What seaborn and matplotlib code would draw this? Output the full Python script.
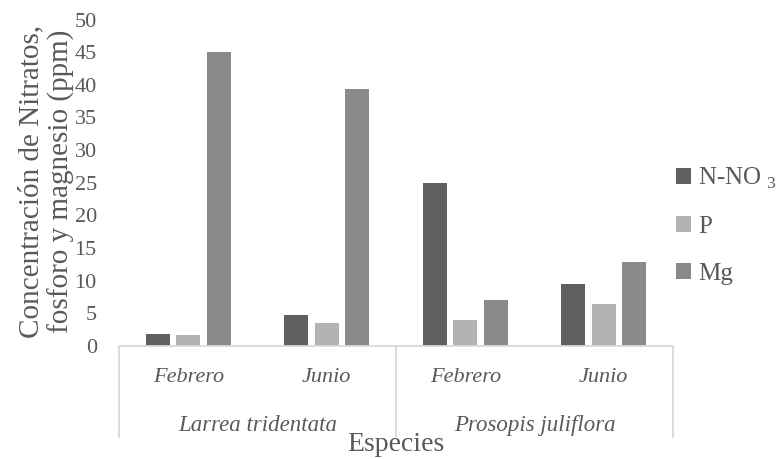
import numpy as np
import pandas as pd
import matplotlib
matplotlib.use("Agg")
import matplotlib.pyplot as plt
import matplotlib.transforms as mtransforms
import seaborn as sns

# Species, sampling months and nutrient concentrations (ppm)
especies = ["Larrea tridentata", "Prosopis juliflora"]
meses = ["Febrero", "Junio"]
nutrientes = ["N-NO3", "P", "Mg"]
etiquetas_leyenda = ["N-NO $_3$", "P", "Mg"]
n_no3 = [1.8, 4.8, 25.0, 9.5]
fosforo = [1.7, 3.5, 4.0, 6.5]
magnesio = [45.0, 39.3, 7.0, 12.9]
colores = ["#5f5f5f", "#b3b3b3", "#8a8a8a"]
yticks = [0, 5, 10, 15, 20, 25, 30, 35, 40, 45, 50]

TXT = "#595959"
LINEA = "#d9d9d9"

sns.set_style("white")
plt.rcParams["font.family"] = ["Liberation Serif", "DejaVu Serif"]
plt.rcParams["mathtext.fontset"] = "custom"
plt.rcParams["mathtext.rm"] = "Liberation Serif"

grupos = [f"{e} | {m}" for e in especies for m in meses]
df = pd.DataFrame({
    "grupo": grupos * 3,
    "nutriente": np.repeat(nutrientes, len(grupos)),
    "ppm": n_no3 + fosforo + magnesio,
})

fig = plt.figure(figsize=(7.79, 4.59), dpi=100)
ax = fig.add_axes([0.1528, 0.2462, 0.7111, 0.7113])

sns.barplot(data=df, x="grupo", y="ppm", hue="nutriente", order=grupos,
            hue_order=nutrientes, palette=colores, width=0.665, gap=0.22,
            linewidth=0, ax=ax)

ax.set_xlim(-0.5, 3.5)
ax.set_ylim(0, 50)
ax.set_yticks(yticks)
ax.set_yticklabels([str(v) for v in yticks], fontsize=16, color=TXT)

for s in ("left", "top", "right"):
    ax.spines[s].set_visible(False)
ax.spines["bottom"].set_color(LINEA)
ax.spines["bottom"].set_linewidth(1.3)
ax.tick_params(axis="both", length=0)
ax.tick_params(axis="y", pad=16)
ax.tick_params(axis="x", pad=16)

ax.set_xticks(range(len(grupos)))
ax.set_xticklabels(meses * len(especies), fontsize=16, style="italic", color=TXT)

# Species labels under each pair of months
trans = mtransforms.blended_transform_factory(ax.transData, ax.transAxes)
for i, sp in enumerate(especies):
    ax.text(i * 2 + 0.5, -0.243, sp, transform=trans, ha="center", va="center",
            fontsize=16.5, style="italic", color=TXT)

# Group separators
for xs in (-0.5, 1.5, 3.5):
    ax.plot([xs, xs], [0, -0.279], transform=trans, color=LINEA, lw=1.3,
            clip_on=False)

ax.set_xlabel("Especies", fontsize=20, color=TXT)
ax.xaxis.set_label_coords(0.5, -0.303)
ax.xaxis.label.set_va("center")

ax.set_ylabel("Concentración de Nitratos,\nfosforo y magnesio (ppm)",
              fontsize=21, color=TXT, linespacing=1.15)
ax.yaxis.set_label_coords(-0.131, 0.505)
ax.yaxis.label.set_va("center")

handles, _ = ax.get_legend_handles_labels()
ax.legend(handles, etiquetas_leyenda, loc="upper left",
          bbox_to_anchor=(676 / 779, 1 - 166 / 459),
          bbox_transform=fig.transFigure, frameon=False, fontsize=18,
          handlelength=0.6, handleheight=0.6, handletextpad=0.3,
          labelspacing=1.0, borderpad=0, borderaxespad=0, labelcolor=TXT)

fig.savefig("out.png", dpi=100)
